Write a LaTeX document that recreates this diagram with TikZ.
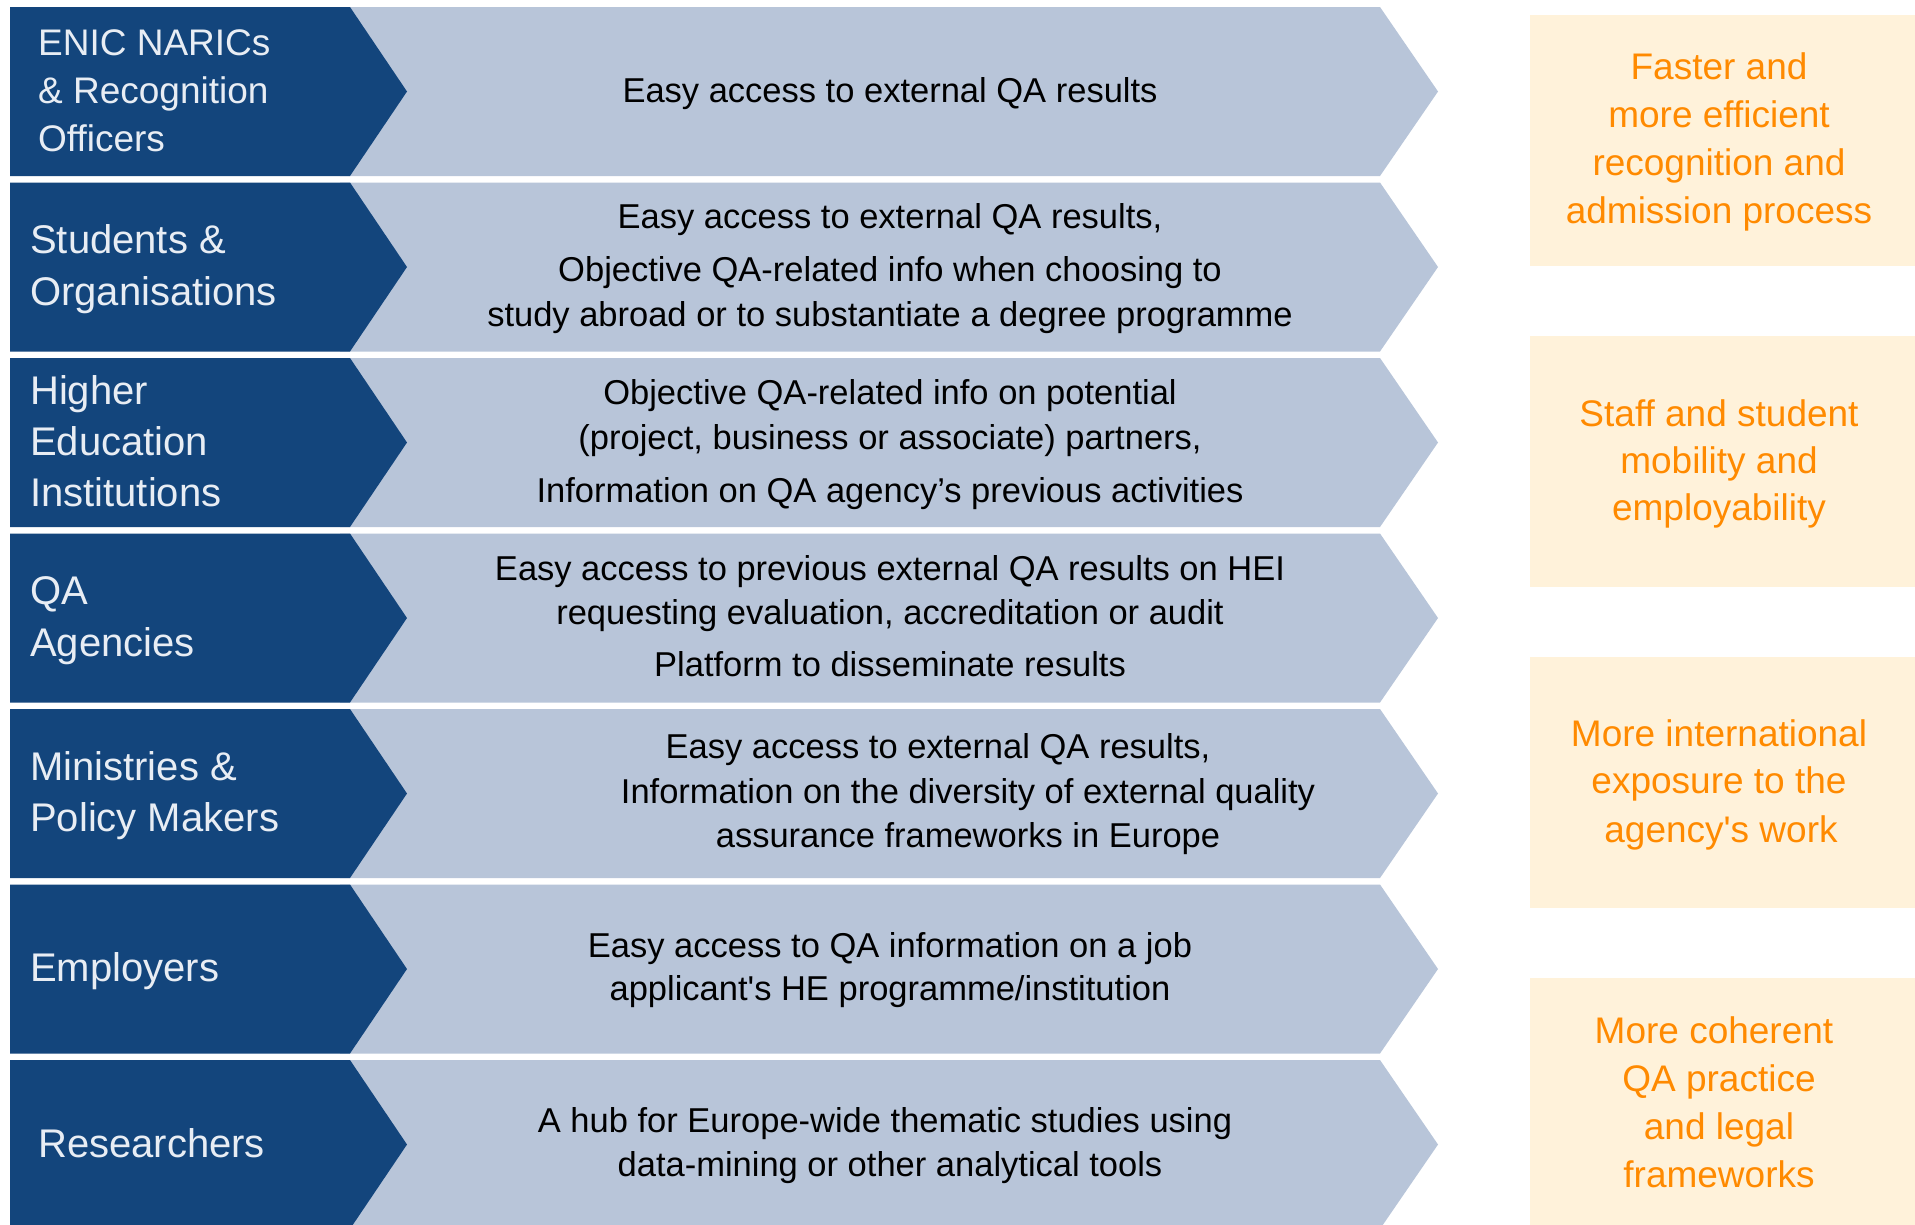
\documentclass[tikz,border=0pt]{standalone}
\usepackage{fontspec}
\setmainfont{Liberation Sans}
\definecolor{darkblue}{HTML}{13457C}
\definecolor{lightblue}{HTML}{B8C5D9}
\definecolor{beige}{HTML}{FFF2DA}
\definecolor{orangetxt}{HTML}{FF8A00}
\definecolor{lefttxt}{HTML}{E8EDF4}
\tikzset{
  lefttext/.style={anchor=base west, inner sep=0pt, text=lefttxt, font=\fontsize{40}{48}\selectfont},
  lefttextsmall/.style={lefttext, font=\fontsize{37}{48}\selectfont},
  midtext/.style={anchor=base, inner sep=0pt, text=black, font=\fontsize{34.5}{44}\selectfont},
  righttext/.style={anchor=base, inner sep=0pt, text=orangetxt, font=\fontsize{37}{48}\selectfont},
  darkchev/.style={fill=darkblue},
  lightchev/.style={fill=lightblue},
  benefit/.style={fill=beige}
}
\begin{document}
\begin{tikzpicture}[x=1pt,y=-1pt]
\fill[white] (0,0) rectangle (1915,1224);
\useasboundingbox (0,0) rectangle (1915,1224);
% chevron rows
\foreach \i in {0,...,6}{
  \pgfmathsetmacro\t{7+175.5*\i}
  \pgfmathsetmacro\b{\t+169}
  \pgfmathsetmacro\m{\t+84.5}
  \fill[lightchev] (340,\t) -- (1380,\t) -- (1438,\m) -- (1380,\b) -- (340,\b) -- cycle;
  \fill[darkchev] (10,\t) -- (350,\t) -- (407,\m) -- (350,\b) -- (10,\b) -- cycle;
}
% benefit boxes
\foreach \i in {0,...,3}{
  \pgfmathsetmacro\t{15+321*\i}
  \pgfmathsetmacro\b{\t+251}
  \fill[benefit] (1530,\t) rectangle (1915,\b);
}
% left labels
\node[lefttextsmall] (l1a) at (38,55) {ENIC NARICs};
\node[lefttextsmall] (l1b) at (38,103.3) {\& Recognition};
\node[lefttextsmall] (l1c) at (38,151.7) {Officers};
\node[lefttext] (l2a) at (30,253.5) {Students \&};
\node[lefttext] (l2b) at (30,305) {Organisations};
\node[lefttext] (l3a) at (30,404) {Higher};
\node[lefttext] (l3b) at (30,455.3) {Education};
\node[lefttext] (l3c) at (30,506.6) {Institutions};
\node[lefttext] (l4a) at (30,604.3) {QA};
\node[lefttext] (l4b) at (30,656.8) {Agencies};
\node[lefttext] (l5a) at (30,780.2) {Ministries \&};
\node[lefttext] (l5b) at (30,831.5) {Policy Makers};
\node[lefttext] (l6a) at (30,981.5) {Employers};
\node[lefttext] (l7a) at (38,1157) {Researchers};
% middle texts
\node[midtext] (m1a) at (890,102.8) {Easy access to external QA results};
\node[midtext] (m2a) at (890,228.6) {Easy access to external QA results,};
\node[midtext] (m2b) at (890,281.1) {Objective QA-related info when choosing to};
\node[midtext] (m2c) at (890,326.3) {study abroad or to substantiate a degree programme};
\node[midtext] (m3a) at (890,404.5) {Objective QA-related info on potential};
\node[midtext] (m3b) at (890,449.6) {(project, business or associate) partners,};
\node[midtext] (m3c) at (890,502.2) {Information on QA agency’s previous activities};
\node[midtext] (m4a) at (890,580.3) {Easy access to previous external QA results on HEI};
\node[midtext] (m4b) at (890,624.3) {requesting evaluation, accreditation or audit};
\node[midtext] (m4c) at (890,676.8) {Platform to disseminate results};
\node[midtext] (m5a) at (938,758.6) {Easy access to external QA results,};
\node[midtext] (m5b) at (968,803.8) {Information on the diversity of external quality};
\node[midtext] (m5c) at (968,847.8) {assurance frameworks in Europe};
\node[midtext] (m6a) at (890,957.7) {Easy access to QA information on a job};
\node[midtext] (m6b) at (890,1000.5) {applicant\textquotesingle s HE programme/institution};
\node[midtext] (m7a) at (885,1132.4) {A hub for Europe-wide thematic studies using};
\node[midtext] (m7b) at (890,1176.3) {data-mining or other analytical tools};
% right texts
\node[righttext] (r1a) at (1719,79.4) {Faster and};
\node[righttext] (r1b) at (1719,127) {more efficient};
\node[righttext] (r1c) at (1719,175.9) {recognition and};
\node[righttext] (r1d) at (1719,223.5) {admission process};
\node[righttext] (r2a) at (1719,426) {Staff and student};
\node[righttext] (r2b) at (1719,473.3) {mobility and};
\node[righttext] (r2c) at (1719,520.3) {employability};
\node[righttext] (r3a) at (1719,746.2) {More international};
\node[righttext] (r3b) at (1719,793.8) {exposure to the};
\node[righttext] (r3c) at (1721,842.7) {agency\textquotesingle s work};
\node[righttext] (r4a) at (1714,1043) {More coherent};
\node[righttext] (r4b) at (1719,1091.8) {QA practice};
\node[righttext] (r4c) at (1719,1139.5) {and legal};
\node[righttext] (r4d) at (1719,1187.1) {frameworks};
\end{tikzpicture}
\end{document}
